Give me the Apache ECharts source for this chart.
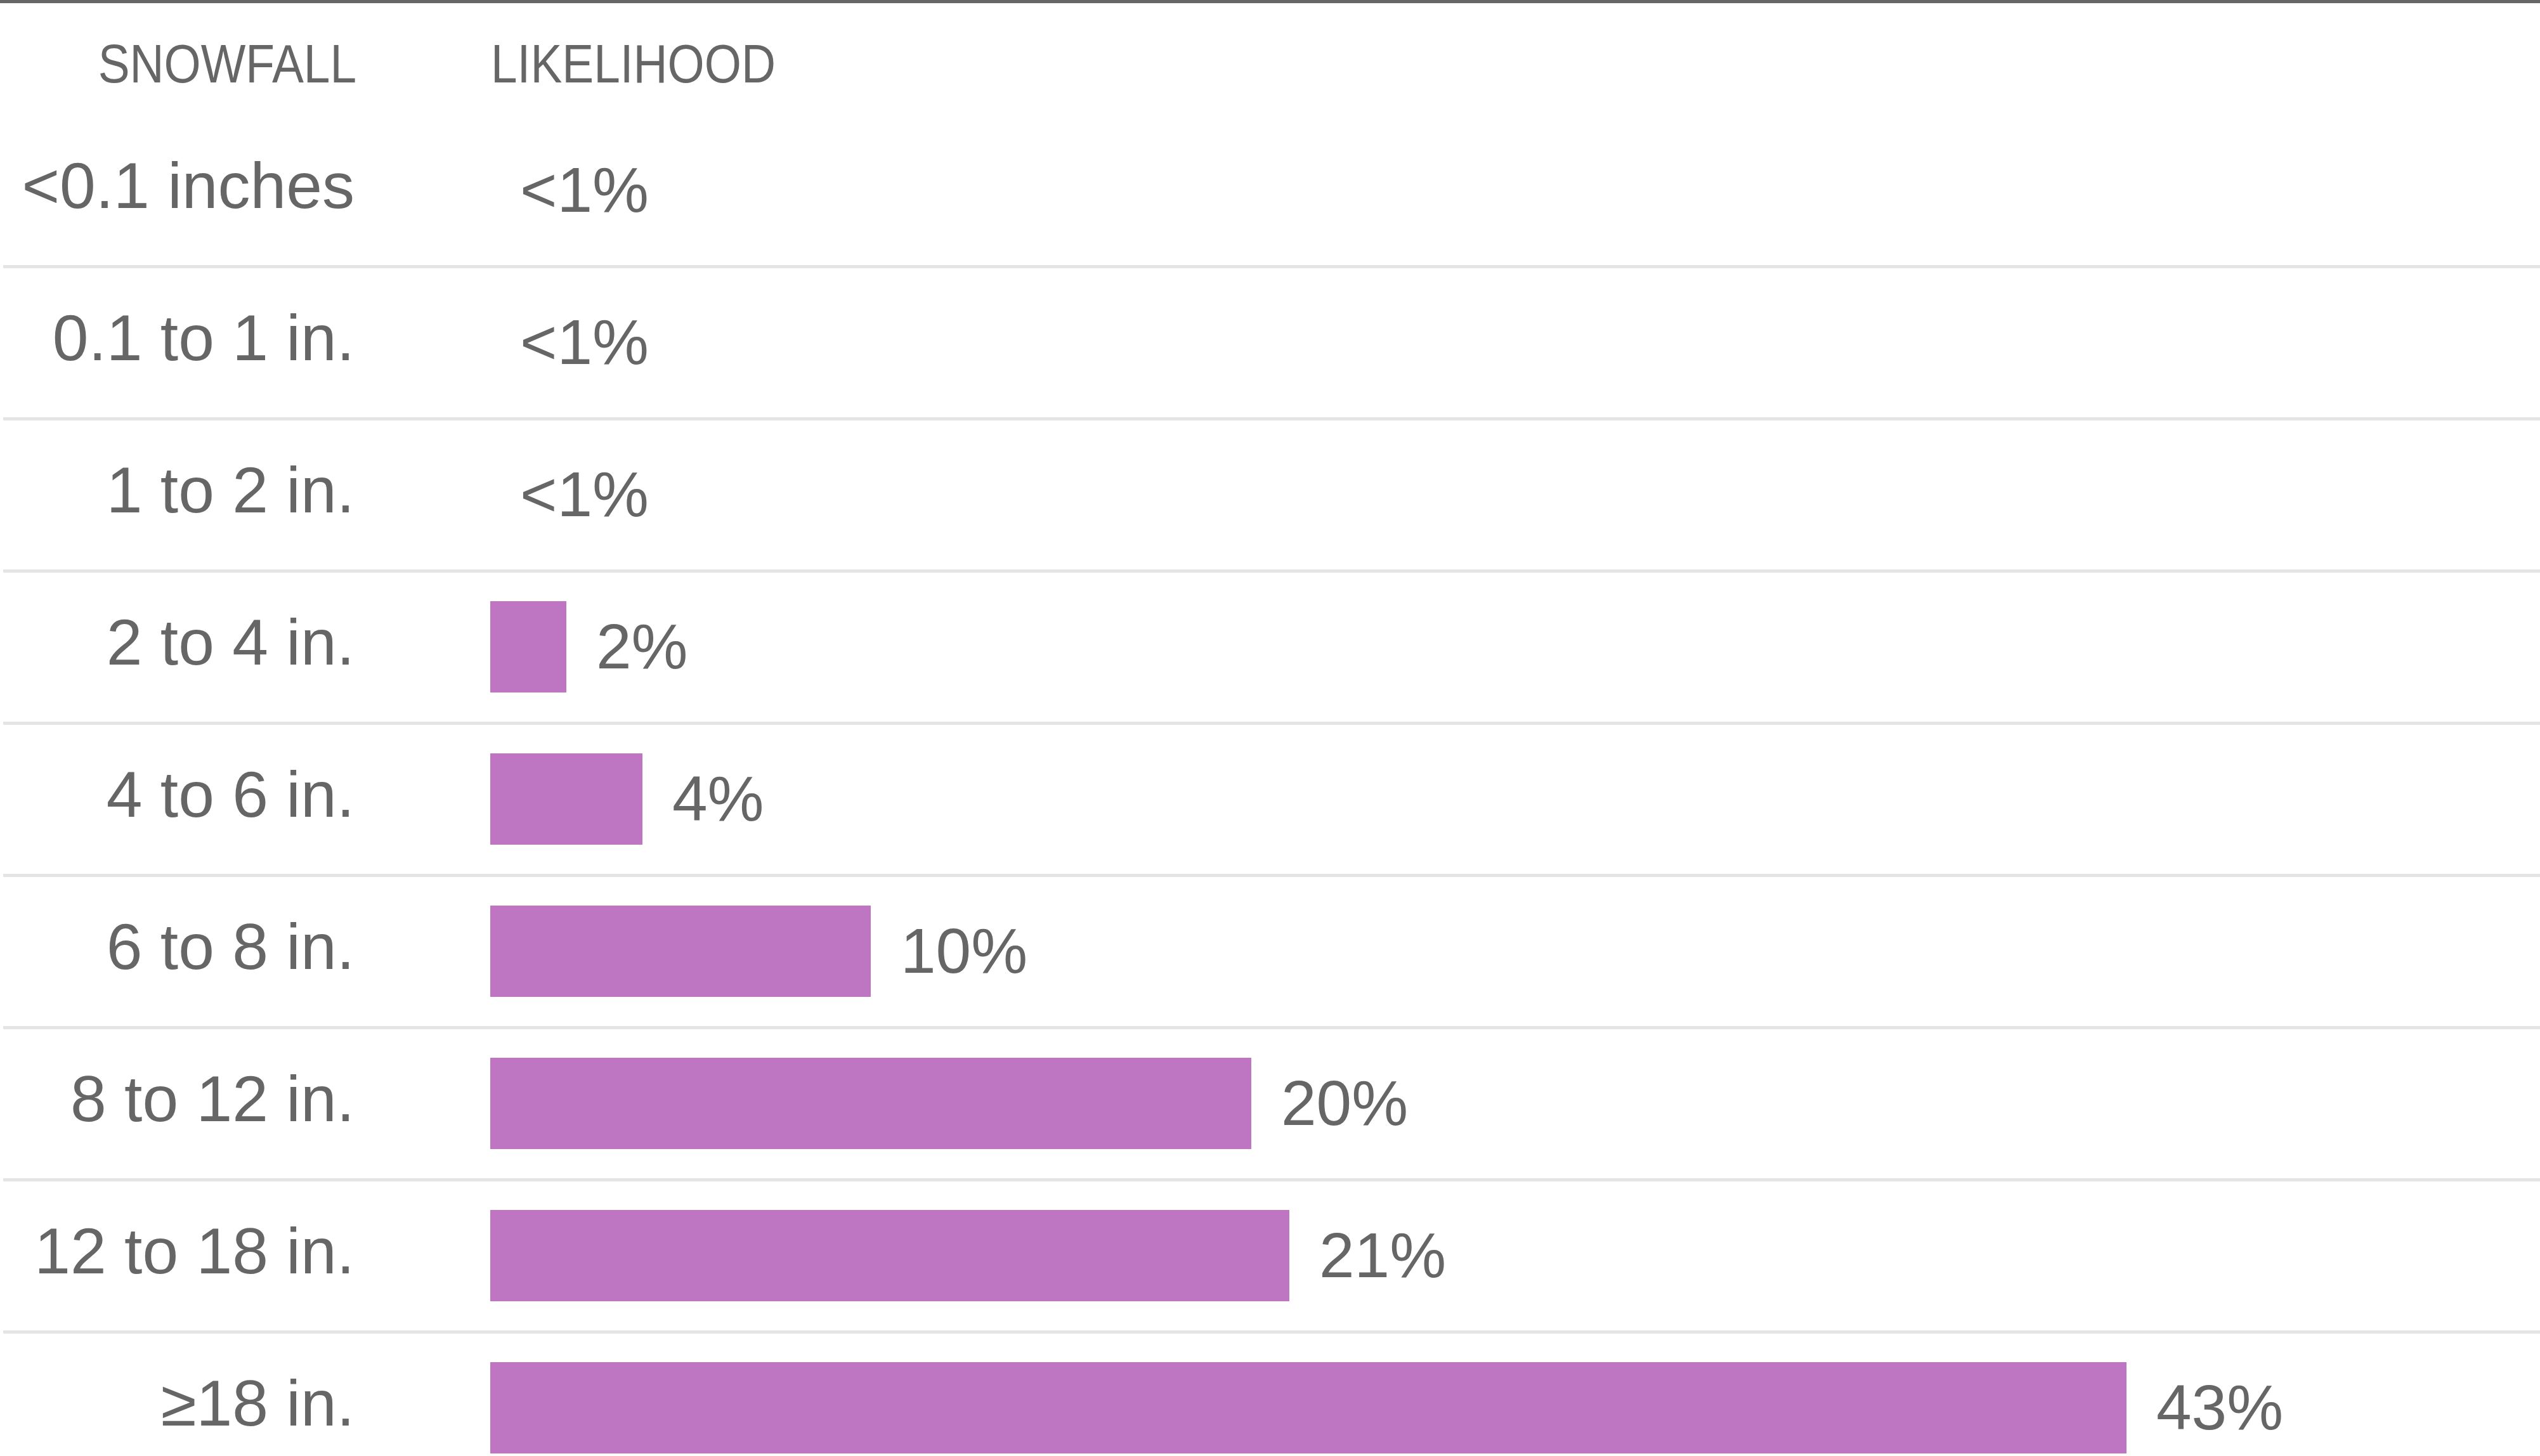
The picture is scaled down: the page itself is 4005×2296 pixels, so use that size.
<!DOCTYPE html>
<html>
<head>
<meta charset="utf-8">
<title>Snowfall likelihood</title>
<script src="https://cdn.jsdelivr.net/npm/echarts@6/dist/echarts.min.js"></script>
<style>
  html, body { margin: 0; padding: 0; background: #ffffff; }
  #chart { width: 4005px; height: 2296px; }
</style>
</head>
<body>
<div id="chart"></div>
<script>
// Snowfall ranges, top to bottom
const snowfallRanges = [
  '<0.1 inches', '0.1 to 1 in.', '1 to 2 in.', '2 to 4 in.', '4 to 6 in.',
  '6 to 8 in.', '8 to 12 in.', '12 to 18 in.', '\u226518 in.'
];
// Likelihood of each range, in percent (0 = under 1 percent)
const likelihood = [0, 0, 0, 2, 4, 10, 20, 21, 43];

// Column headings
const headings = { range: 'SNOWFALL', chance: 'LIKELIHOOD' };

const textColor = '#666666';
const barColor = '#be75c2';
const ruleColor = '#e4e4e4';
const bodyFont = '"Liberation Sans", Arial, sans-serif';

// Horizontal layout: bars start 773px from the left edge, 60px per percent
const W = 4005;
const gridLeft = 5;
const barStart = 773;
const labelRight = 559;
const pxPerPct = 60;

const chart = echarts.init(document.getElementById('chart'), null, { renderer: 'canvas' });

// Headings are set in a condensed cut by squeezing the regular face horizontally
const headStyle = { font: '85px ' + bodyFont, fill: textColor, textVerticalAlign: 'middle' };

chart.setOption({
  backgroundColor: '#ffffff',
  animation: false,
  graphic: [
    { type: 'rect', shape: { x: 0, y: 0, width: W, height: 5 }, style: { fill: '#666666' } },
    {
      type: 'text', x: 562, y: 107, scaleX: 0.88,
      style: Object.assign({ text: headings.range, textAlign: 'right' }, headStyle)
    },
    {
      type: 'text', x: 774, y: 107, scaleX: 0.88,
      style: Object.assign({ text: headings.chance, textAlign: 'left' }, headStyle)
    }
  ],
  grid: {
    left: gridLeft, right: 0, top: 180, height: 2160,
    containLabel: false, outerBoundsMode: 'none'
  },
  xAxis: {
    type: 'value',
    min: -(barStart - gridLeft) / pxPerPct,
    max: (W - barStart) / pxPerPct,
    show: false,
    splitLine: { show: false }
  },
  yAxis: {
    type: 'category',
    data: snowfallRanges,
    inverse: true,
    position: 'left',
    axisLine: { show: false, onZero: false },
    axisTick: { show: false },
    axisLabel: {
      // labels sit right-aligned just left of where the bars begin
      margin: gridLeft - labelRight,
      color: textColor,
      fontSize: 102,
      fontFamily: bodyFont,
      padding: [12, 0, 0, 0],
      hideOverlap: false
    },
    splitLine: {
      show: true,
      showMinLine: false,
      lineStyle: { color: ruleColor, width: 5 }
    }
  },
  series: [{
    type: 'bar',
    data: likelihood,
    barWidth: '60%',
    itemStyle: { color: barColor },
    label: {
      show: true,
      position: 'right',
      distance: 47,
      offset: [0, 6],
      color: textColor,
      fontSize: 100,
      fontFamily: bodyFont,
      formatter: p => (p.value < 1 ? '<1%' : p.value + '%')
    }
  }]
});
</script>
</body>
</html>
